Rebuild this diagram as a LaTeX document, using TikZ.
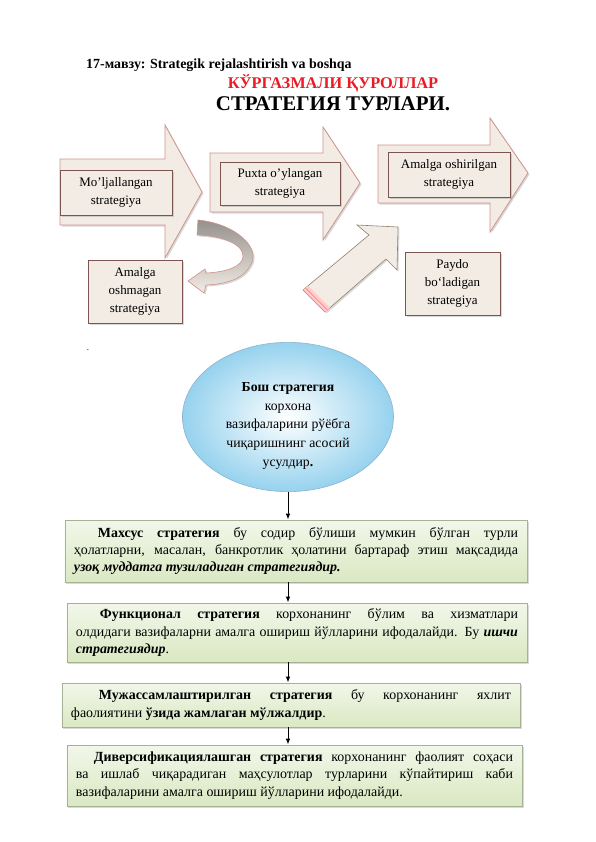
\documentclass[tikz,border=0pt]{standalone}
\usepackage{fontspec}
\setmainfont{Liberation Serif}
\usepackage{xcolor}
\usetikzlibrary{arrows.meta,positioning,shapes.geometric,shadows,calc}

\definecolor{arrfill}{RGB}{242,236,229}
\definecolor{arrline}{RGB}{208,146,140}
\definecolor{boxline}{RGB}{125,85,80}
\definecolor{grnfill}{RGB}{218,232,194}
\definecolor{grnline}{RGB}{165,178,150}
\definecolor{titlered}{RGB}{232,28,36}
\definecolor{ellblue}{RGB}{150,210,238}
\definecolor{ellline}{RGB}{140,180,205}
\definecolor{bendgray}{RGB}{150,145,140}

\begin{document}
\begin{tikzpicture}[
    x=1bp,y=-1bp,>=Latex,
    softshadow/.style={drop shadow={opacity=0.3,shadow xshift=1.5bp,shadow yshift=-1.5bp}},
    blockarr/.style={draw=arrline,fill=arrfill,line width=0.8pt,softshadow},
    stratbox/.style={rectangle,draw=boxline,fill=arrfill,line width=0.6pt,align=center,
      inner sep=1pt,font=\fontsize{13}{18}\selectfont,softshadow},
    infobox/.style={rectangle,draw=grnline,top color=grnfill!35,bottom color=grnfill,
      line width=0.6pt,align=justify,inner xsep=9bp,inner ysep=3bp,
      font=\fontsize{14}{17.5}\selectfont,softshadow},
    link/.style={->,line width=1pt,>={Latex[length=6pt,width=4.5pt]}}]
  \useasboundingbox (0,0) rectangle (596,842);

  % ---- heading ----
  \node[font=\bfseries\fontsize{14}{16}\selectfont,anchor=base west,inner sep=0pt] (topic) at (86,68)
    {17-мавзу: Strategik rejalashtirish va boshqa};
  \node[font=\bfseries\fontsize{16.4}{18}\selectfont,text=titlered,anchor=base,inner sep=0pt] (visual) at (333,88)
    {КЎРГАЗМАЛИ ҚУРОЛЛАР};
  \node[font=\bfseries\fontsize{21}{23}\selectfont,anchor=base,inner sep=0pt] (kinds) at (333,110)
    {СТРАТЕГИЯ ТУРЛАРИ.};

  % ---- block arrows ----
  \draw[blockarr] (60,159) -- (165,159) -- (165,125) -- (202,192) -- (165,258)
    -- (165,225) -- (60,225) -- cycle;
  \draw[blockarr] (210,153) -- (323,153) -- (323,127) -- (360,183) -- (323,240)
    -- (323,212) -- (210,212) -- cycle;
  \draw[blockarr] (378,145) -- (490,145) -- (490,118) -- (528,173) -- (490,232)
    -- (490,203) -- (378,203) -- cycle;

  % ---- curved arrow back ----
  \draw[draw=arrline,line width=0.6pt,top color=bendgray,bottom color=arrfill,softshadow]
    (198,220) .. controls (238,224) and (262,250) .. (250,266)
    .. controls (244,278) and (228,284) .. (206,285) -- (204,293) -- (188,281)
    -- (205,269) -- (206,273) .. controls (228,272) and (242,266) .. (243,257)
    .. controls (244,245) and (225,236) .. (197,235) -- cycle;

  % ---- rising arrow ----
  \draw[draw=gray!70!brown,line width=0.6pt,fill=arrfill,softshadow]
    (303,290) -- (369,235) -- (357,225) -- (398,227) -- (397,270) -- (386,259)
    -- (325,312) -- cycle;
  \fill[red!20] (303,290) -- (308,286) -- (330,308) -- (325,312) -- cycle;
  \draw[red!55,line width=0.6pt] (305.5,288) -- (327.5,310);
  \draw[red!55,line width=0.6pt] (303,290) -- (325,312);

  % ---- strategy boxes ----
  \node[stratbox,minimum width=112bp,minimum height=45bp] (moljal) at (116,192.5)
    {Mo’ljallangan\\strategiya};
  \node[stratbox,minimum width=120bp,minimum height=43bp] (puxta) at (280,183.5)
    {Puxta o’ylangan\\strategiya};
  \node[stratbox,minimum width=122bp,minimum height=45bp] (oshir) at (449,174.5)
    {Amalga oshirilgan\\strategiya};
  \node[stratbox,minimum width=94bp,minimum height=63bp] (oshmag) at (135,291.5)
    {Amalga\\oshmagan\\strategiya};
  \node[stratbox,minimum width=95bp,minimum height=63bp] (paydo) at (452.5,283.5)
    {Paydo\\bo‘ladigan\\strategiya};

  \node[font=\small] (dot) at (88,350) {.};

  % ---- main strategy ----
  \node[ellipse,draw=ellline,line width=0.6pt,inner color=white,outer color=ellblue,
    minimum width=211bp,minimum height=140bp,inner sep=0pt,align=center,
    font=\fontsize{13.8}{19}\selectfont] (bosh) at (288,417)
    {\rule{0pt}{27pt}\textbf{Бош стратегия}\\корхона\\вазифаларини рўёбга\\чиқаришнинг асосий\\усулдир\textbf{.}};

  % ---- kinds of strategy ----
  \node[infobox,text width=444bp,minimum height=62bp] (maxsus) at (296,551)
    {\hspace*{24pt}\textbf{Махсус стратегия} бу содир бўлиши мумкин бўлган турли\linebreak
     ҳолатларни, масалан, банкротлик ҳолатини бартараф этиш мақсадида\linebreak
     \textbf{\textit{узоқ муддатга тузиладиган стратегиядир.}}};
  \node[infobox,text width=442bp,minimum height=59bp] (funk) at (297,632.5)
    {\hspace*{24pt}\textbf{Функционал стратегия} корхонанинг бўлим ва хизматлари\linebreak
     олдидаги вазифаларни амалга ошириш йўлларини ифодалайди. Бу \textbf{\textit{ишчи}}\linebreak
     \textbf{\textit{стратегиядир}}.};
  \node[infobox,text width=440bp,minimum height=44bp] (mujas) at (291,705)
    {\hspace*{28pt}\textbf{Мужассамлаштирилган стратегия} бу корхонанинг яхлит\linebreak
     фаолиятини \textbf{ўзида жамлаган мўлжалдир}.};
  \node[infobox,text width=437bp,minimum height=61bp] (divers) at (294.5,775.5)
    {\hspace*{18pt}\textbf{Диверсификациялашган стратегия} корхонанинг фаолият соҳаси\linebreak
     ва ишлаб чиқарадиган маҳсулотлар турларини кўпайтириш каби\linebreak
     вазифаларини амалга ошириш йўлларини ифодалайди.};

  \draw[link] (bosh.south) -- (bosh.south |- maxsus.north);
  \draw[link] (maxsus.south -| bosh.south) -- (funk.north -| bosh.south);
  \draw[link] (funk.south -| bosh.south) -- (mujas.north -| bosh.south);
  \draw[link] (mujas.south -| bosh.south) -- (divers.north -| bosh.south);
\end{tikzpicture}
\end{document}
